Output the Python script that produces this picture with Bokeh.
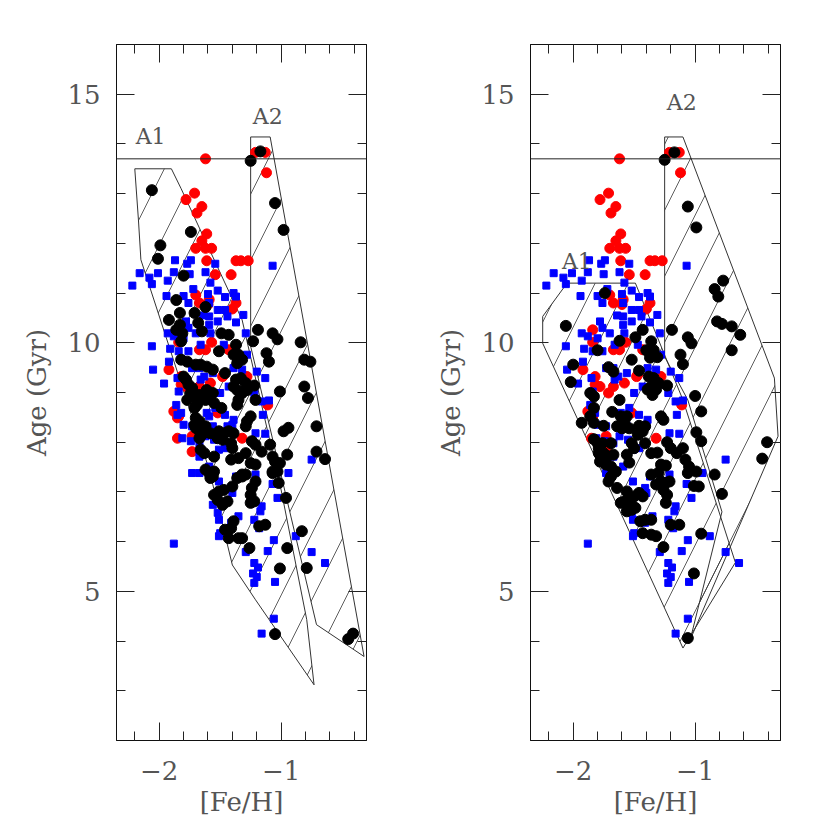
from bokeh.plotting import figure
from bokeh.layouts import row
from bokeh.models import FixedTicker, LinearAxis, Span, Range1d, Label
from bokeh.embed import file_html
from bokeh.resources import INLINE

# ---------------- data ([Fe/H], Age in Gyr) ----------------
red_stars = [
    (-1.62, 13.70), (-1.21, 13.83), (-1.13, 13.83), (-1.12, 13.42), (-1.71, 13.01), (-1.78, 12.88),
    (-1.65, 12.74), (-1.69, 12.61), (-1.61, 12.19), (-1.65, 12.05), (-1.70, 11.90), (-1.62, 11.90),
    (-1.57, 11.90), (-1.61, 11.65), (-1.37, 11.65), (-1.33, 11.65), (-1.27, 11.65), (-1.41, 11.37),
    (-1.54, 11.37), (-1.70, 10.96), (-1.67, 10.80), (-1.37, 10.80), (-1.40, 10.68), (-1.84, 10.26),
    (-1.84, 10.01), (-1.57, 10.01), (-1.67, 9.86), (-1.62, 9.86), (-1.92, 9.46), (-1.47, 9.36),
    (-1.43, 9.86), (-1.82, 9.32), (-1.82, 9.16), (-1.67, 9.12), (-1.58, 9.19), (-1.11, 8.75),
    (-1.88, 8.62), (-1.84, 8.52), (-1.85, 8.49), (-1.52, 8.59), (-1.85, 8.08), (-1.73, 8.12),
    (-1.73, 7.81), (-1.32, 8.08), (-1.59, 10.87), (-1.60, 10.77), (-1.71, 8.99), (-1.78, 9.12),
    (-1.48, 9.32), (-1.28, 9.32),
]

blue_stars = [
    (-1.87, 11.66), (-1.74, 11.66), (-1.77, 11.59), (-1.54, 11.59), (-2.16, 11.40), (-2.01, 11.40),
    (-1.88, 11.42), (-2.08, 11.31), (-2.06, 11.18), (-2.22, 11.15), (-1.93, 11.25), (-1.75, 11.38),
    (-1.62, 11.42), (-1.58, 11.21), (-1.07, 11.55), (-1.72, 11.08), (-1.52, 11.05), (-1.39, 11.00),
    (-1.46, 10.92), (-1.60, 10.98), (-1.80, 10.94), (-1.94, 10.94), (-1.76, 10.80), (-1.59, 10.80),
    (-1.52, 10.66), (-1.46, 10.66), (-1.37, 10.93), (-1.64, 10.55), (-1.59, 10.53), (-1.31, 10.56),
    (-1.78, 10.43), (-1.52, 10.43), (-1.76, 10.30), (-1.37, 10.41), (-1.44, 10.53), (-1.59, 10.36),
    (-1.70, 10.19), (-1.58, 10.19), (-1.93, 10.19), (-1.29, 10.19), (-1.88, 10.13), (-1.80, 10.09),
    (-1.66, 9.96), (-2.06, 9.93), (-1.91, 9.88), (-1.84, 9.83), (-1.76, 9.83), (-1.47, 9.96),
    (-1.28, 9.76), (-1.92, 9.62), (-1.73, 9.49), (-1.67, 9.49), (-2.05, 9.46), (-1.56, 9.39),
    (-1.39, 9.49), (-1.32, 9.46), (-1.20, 9.42), (-1.13, 9.29), (-1.85, 9.29), (-1.84, 9.02),
    (-1.96, 9.18), (-1.63, 9.32), (-1.66, 9.26), (-1.43, 9.12), (-1.50, 8.99), (-1.22, 8.99),
    (-1.16, 8.82), (-1.10, 8.84), (-1.86, 8.75), (-1.85, 8.55), (-1.82, 8.59), (-1.54, 8.69),
    (-1.61, 8.59), (-1.59, 8.52), (-1.46, 8.55), (-1.39, 8.45), (-1.44, 8.32), (-1.40, 8.35),
    (-1.15, 8.55), (-1.80, 8.35), (-1.73, 8.32), (-1.56, 8.32), (-1.62, 8.12), (-1.81, 8.08),
    (-1.74, 8.02), (-1.67, 7.98), (-1.21, 8.18), (-1.13, 8.17), (-1.55, 8.05), (-0.75, 7.65),
    (-0.94, 7.38), (-1.51, 7.85), (-1.46, 7.88), (-1.67, 7.71), (-1.73, 7.38), (-1.67, 7.38),
    (-1.59, 7.51), (-1.51, 7.21), (-1.37, 7.31), (-1.21, 7.35), (-1.41, 7.08), (-1.40, 6.98),
    (-1.07, 7.16), (-1.03, 6.88), (-1.56, 6.74), (-1.52, 6.58), (-1.51, 6.44), (-1.16, 6.71),
    (-1.17, 6.61), (-1.41, 6.38), (-1.35, 6.51), (-1.22, 6.44), (-1.18, 6.27), (-1.51, 6.11),
    (-1.50, 6.17), (-1.88, 5.96), (-1.06, 6.03), (-1.11, 5.81), (-1.29, 5.79), (-0.88, 6.11),
    (-0.75, 5.79), (-0.64, 5.57), (-1.22, 5.57), (-1.19, 5.48), (-1.23, 5.36), (-1.20, 5.29),
    (-1.22, 5.17), (-1.05, 5.19), (-1.06, 4.45), (-1.16, 4.15),
]

black_left = [
    (-1.25, 13.66), (-1.17, 13.85), (-2.06, 13.07), (-1.05, 12.81), (-0.98, 12.27), (-1.74, 12.23),
    (-1.99, 11.96), (-2.01, 11.69), (-1.80, 11.35), (-1.86, 10.86), (-1.62, 10.72), (-1.83, 10.60),
    (-1.71, 10.60), (-1.92, 10.46), (-1.83, 10.36), (-1.68, 10.40), (-1.86, 10.26), (-1.81, 10.19),
    (-1.65, 10.23), (-1.49, 10.19), (-1.43, 10.16), (-1.19, 10.26), (-1.07, 10.19), (-1.03, 10.07),
    (-0.84, 10.01), (-1.82, 10.03), (-1.51, 9.83), (-1.37, 9.96), (-1.39, 9.76), (-1.35, 9.76),
    (-1.32, 9.66), (-1.36, 9.59), (-1.23, 10.03), (-1.12, 9.79), (-1.10, 9.62), (-0.81, 9.66),
    (-0.76, 9.62), (-1.82, 9.66), (-1.77, 9.62), (-1.70, 9.56), (-1.66, 9.56), (-1.61, 9.52),
    (-1.56, 9.46), (-1.46, 9.39), (-1.80, 9.32), (-1.78, 9.26), (-1.76, 9.16), (-1.73, 9.09),
    (-1.37, 9.26), (-1.33, 9.29), (-1.29, 9.19), (-1.28, 9.05), (-1.32, 8.99), (-1.36, 9.05),
    (-1.39, 9.12), (-1.22, 9.14), (-1.61, 9.05), (-1.56, 8.99), (-1.59, 8.89), (-1.55, 8.79),
    (-1.62, 8.85), (-1.67, 8.95), (-1.70, 8.89), (-1.69, 8.75), (-1.71, 8.69), (-1.74, 8.99),
    (-1.77, 8.85), (-1.35, 8.85), (-1.36, 8.75), (-1.21, 8.85), (-1.01, 9.02), (-0.81, 9.12),
    (-0.78, 8.89), (-1.49, 8.69), (-1.70, 8.49), (-1.67, 8.42), (-1.71, 8.35), (-1.70, 8.29),
    (-1.67, 8.22), (-1.25, 8.52), (-1.28, 8.42), (-1.29, 8.32), (-0.94, 8.29), (-0.98, 8.22),
    (-0.71, 8.32), (-1.62, 8.32), (-1.58, 8.18), (-1.65, 8.15), (-1.67, 8.08), (-1.51, 8.22),
    (-1.47, 8.18), (-1.43, 8.22), (-1.39, 8.18), (-1.52, 8.08), (-1.48, 8.05), (-1.41, 7.98),
    (-1.40, 7.88), (-1.24, 8.02), (-1.21, 7.95), (-1.16, 7.81), (-1.09, 7.95), (-1.66, 7.85),
    (-1.63, 7.78), (-1.55, 7.71), (-1.41, 7.65), (-1.35, 7.68), (-1.29, 7.78), (-1.25, 7.58),
    (-1.21, 7.55), (-1.07, 7.71), (-1.05, 7.61), (-1.01, 7.58), (-0.95, 7.75), (-0.71, 7.81),
    (-0.64, 7.66), (-1.62, 7.45), (-1.56, 7.38), (-1.32, 7.35), (-1.07, 7.41), (-1.59, 7.38),
    (-1.55, 7.41), (-1.56, 7.31), (-1.58, 7.28), (-1.40, 7.11), (-1.36, 7.28), (-1.32, 7.31),
    (-1.29, 7.35), (-1.24, 7.08), (-1.21, 7.21), (-1.25, 6.94), (-1.22, 6.81), (-1.25, 6.78),
    (-1.07, 7.38), (-1.03, 7.41), (-1.02, 7.18), (-0.96, 6.88), (-1.55, 6.94), (-1.51, 7.01),
    (-1.47, 7.04), (-1.52, 6.84), (-1.48, 6.74), (-1.44, 6.81), (-1.46, 6.24), (-1.41, 6.27),
    (-1.39, 6.41), (-1.43, 6.07), (-1.35, 6.07), (-1.32, 6.07), (-1.18, 6.31), (-1.13, 6.34),
    (-1.26, 5.87), (-0.95, 5.87), (-1.01, 5.46), (-0.79, 5.47), (-0.83, 6.21), (-1.05, 4.14),
    (-0.45, 4.04), (-0.41, 4.15),
]

black_right = [
    (-1.25, 13.68), (-1.17, 13.83), (-1.06, 12.74), (-0.99, 12.32), (-0.77, 11.25), (-0.84, 11.08),
    (-0.81, 10.93), (-1.74, 11.00), (-2.06, 10.34), (-0.82, 10.43), (-0.78, 10.38), (-0.70, 10.33),
    (-0.63, 10.16), (-0.70, 9.85), (-1.19, 10.26), (-1.06, 10.11), (-1.03, 9.99), (-1.12, 9.76),
    (-1.10, 9.57), (-1.00, 8.93), (-0.95, 8.62), (-0.99, 8.20), (-0.95, 8.02), (-0.41, 8.00),
    (-0.45, 7.67), (-0.84, 7.35), (-1.43, 10.26), (-1.36, 10.03), (-1.49, 10.11), (-1.62, 10.04),
    (-1.80, 9.85), (-1.40, 9.85), (-1.34, 9.85), (-1.37, 9.70), (-1.31, 9.71), (-1.52, 9.66),
    (-1.46, 9.44), (-1.71, 9.51), (-1.67, 9.42), (-2.00, 9.56), (-2.02, 9.21), (-1.38, 9.32),
    (-1.34, 9.29), (-1.30, 9.19), (-1.36, 9.12), (-1.23, 9.14), (-1.39, 9.06), (-1.32, 9.06),
    (-1.35, 8.95), (-1.86, 8.99), (-1.83, 8.92), (-1.62, 8.85), (-1.83, 8.69), (-1.86, 8.52),
    (-1.93, 8.39), (-1.83, 8.39), (-1.75, 8.33), (-1.68, 8.61), (-1.61, 8.52), (-1.56, 8.52),
    (-1.58, 8.42), (-1.64, 8.32), (-1.60, 8.28), (-1.54, 8.28), (-1.28, 8.52), (-1.26, 8.45),
    (-1.46, 8.33), (-1.41, 8.32), (-1.43, 8.22), (-1.47, 8.15), (-1.41, 7.98), (-1.52, 7.98),
    (-1.83, 8.06), (-1.80, 7.98), (-1.76, 7.98), (-1.69, 7.98), (-1.79, 7.88), (-1.75, 7.78),
    (-1.72, 7.71), (-1.79, 7.78), (-1.67, 7.75), (-1.78, 7.61), (-1.73, 7.55), (-1.69, 7.51),
    (-1.65, 7.41), (-1.69, 7.31), (-1.56, 7.75), (-1.54, 7.59), (-1.50, 7.88), (-1.31, 7.79),
    (-1.36, 7.78), (-1.23, 8.00), (-1.20, 7.88), (-1.15, 7.78), (-1.10, 7.88), (-1.08, 7.65),
    (-1.05, 7.51), (-1.06, 7.38), (-0.99, 7.41), (-1.28, 7.55), (-1.24, 7.53), (-1.36, 7.35),
    (-1.30, 7.39), (-1.71, 7.21), (-1.64, 7.08), (-1.56, 7.01), (-1.58, 6.81), (-1.53, 6.84),
    (-1.61, 6.78), (-1.56, 6.61), (-1.52, 6.64), (-1.49, 6.68), (-1.46, 6.98), (-1.43, 6.91),
    (-1.50, 6.91), (-1.45, 6.41), (-1.41, 6.44), (-1.36, 6.44), (-1.43, 6.17), (-1.36, 6.14),
    (-1.32, 6.11), (-1.32, 7.15), (-1.28, 7.21), (-1.24, 7.18), (-1.21, 7.21), (-1.26, 7.04),
    (-1.23, 6.94), (-1.24, 6.78), (-1.20, 6.34), (-1.13, 6.34), (-1.01, 7.12), (-0.97, 7.11),
    (-0.78, 6.96), (-0.95, 6.16), (-1.26, 5.89), (-1.01, 5.36), (-1.06, 4.06),
]

# region outlines (vertices in [Fe/H], Age)
a1_left = [(-2.20, 13.50), (-1.90, 13.50), (-1.82, 13.10), (-1.32, 10.46), (-1.00, 7.04), (-0.79, 4.43),
           (-0.73, 3.12), (-1.21, 4.83), (-1.40, 5.53), (-1.59, 7.45), (-2.15, 11.67), (-2.17, 12.47)]
a2_left = [(-1.25, 14.14), (-1.09, 14.14), (-0.32, 3.69), (-0.71, 4.33), (-1.25, 9.93)]
a1_right = [(-2.05, 11.20), (-1.49, 11.20), (-1.10, 8.85), (-0.67, 5.58), (-1.10, 3.86), (-2.25, 9.99),
            (-2.25, 10.53)]
a2_right = [(-1.25, 14.14), (-1.10, 14.14), (-0.35, 9.29), (-0.32, 8.12), (-1.04, 4.03), (-0.78, 6.60),
            (-1.06, 8.85), (-1.25, 9.72)]

universe_age = 13.7
x_major = [-2, -1]
x_minor = [-2.2, -1.8, -1.6, -1.4, -1.2, -0.8, -0.6, -0.4]
y_major = [5, 10, 15]
y_minor = [3, 4, 6, 7, 8, 9, 11, 12, 13, 14]
x_tick_text = {-2: "\u22122", -1: "\u22121"}

FONT = "DejaVu Serif"
TXT = "#555555"


def style_axis(ax, labels):
    ax.major_tick_in = 18
    ax.major_tick_out = 0
    ax.minor_tick_in = 9
    ax.minor_tick_out = 0
    ax.axis_line_color = "#111111"
    ax.major_tick_line_color = "#222222"
    ax.minor_tick_line_color = "#222222"
    if labels:
        ax.major_label_text_font = FONT
        ax.major_label_text_font_size = "26px"
        ax.major_label_text_color = TXT
    else:
        ax.major_label_text_color = None


def make_panel(black, a1, a2, labels, border_left, border_right):
    p = figure(frame_width=250, frame_height=696,
               x_range=Range1d(-2.35, -0.3), y_range=Range1d(2, 16),
               output_backend="svg", toolbar_location=None,
               min_border_left=border_left, min_border_right=border_right,
               min_border_top=44, min_border_bottom=80)
    p.xgrid.visible = False
    p.ygrid.visible = False
    p.outline_line_color = "#111111"
    p.background_fill_color = "white"
    p.border_fill_color = "white"

    for poly in (a1, a2):
        p.patch([v[0] for v in poly], [v[1] for v in poly],
                fill_alpha=0, line_color="#333333", line_width=1,
                hatch_pattern="/", hatch_scale=66, hatch_color="#333333",
                hatch_weight=0.8)

    p.add_layout(Span(location=universe_age, dimension="width",
                      line_color="#222222", line_width=1))

    p.scatter([s[0] for s in red_stars], [s[1] for s in red_stars], marker="circle",
              size=10, fill_color="#ff0000", line_color="#ff0000")
    p.scatter([s[0] for s in blue_stars], [s[1] for s in blue_stars], marker="square",
              size=7, fill_color="#0000ff", line_color="#0000ff")
    p.scatter([s[0] for s in black], [s[1] for s in black], marker="circle",
              size=11, fill_color="black", line_color="black")

    for text, (lx, ly) in labels:
        p.add_layout(Label(x=lx, y=ly, text=text, text_font=FONT, text_font_size="22px",
                           text_color=TXT, text_align="center", text_baseline="middle"))

    xt = FixedTicker(ticks=x_major, minor_ticks=x_minor)
    yt = FixedTicker(ticks=y_major, minor_ticks=y_minor)

    bottom = p.below[0]
    left = p.left[0]
    bottom.ticker = xt
    left.ticker = yt
    bottom.major_label_overrides = x_tick_text
    style_axis(bottom, True)
    style_axis(left, True)
    bottom.major_label_standoff = 20
    left.major_label_standoff = 16
    bottom.axis_label = "[Fe/H]"
    left.axis_label = "Age (Gyr)"
    for ax in (bottom, left):
        ax.axis_label_text_font = FONT
        ax.axis_label_text_font_size = "26px"
        ax.axis_label_text_font_style = "normal"
        ax.axis_label_text_color = TXT
    bottom.axis_label_standoff = 4
    left.axis_label_standoff = 12

    top = LinearAxis(ticker=FixedTicker(ticks=x_major, minor_ticks=x_minor))
    right = LinearAxis(ticker=FixedTicker(ticks=y_major, minor_ticks=y_minor))
    style_axis(top, False)
    style_axis(right, False)
    p.add_layout(top, "above")
    p.add_layout(right, "right")
    return p


p1 = make_panel(black_left, a1_left, a2_left,
                [("A1", (-2.07, 14.15)), ("A2", (-1.11, 14.55))], 116, 56)
p2 = make_panel(black_right, a1_right, a2_right,
                [("A1", (-1.97, 11.63)), ("A2", (-1.11, 14.84))], 108, 30)

p = row(p1, p2, spacing=0)
open("out.html", "w").write(file_html(p, INLINE))
